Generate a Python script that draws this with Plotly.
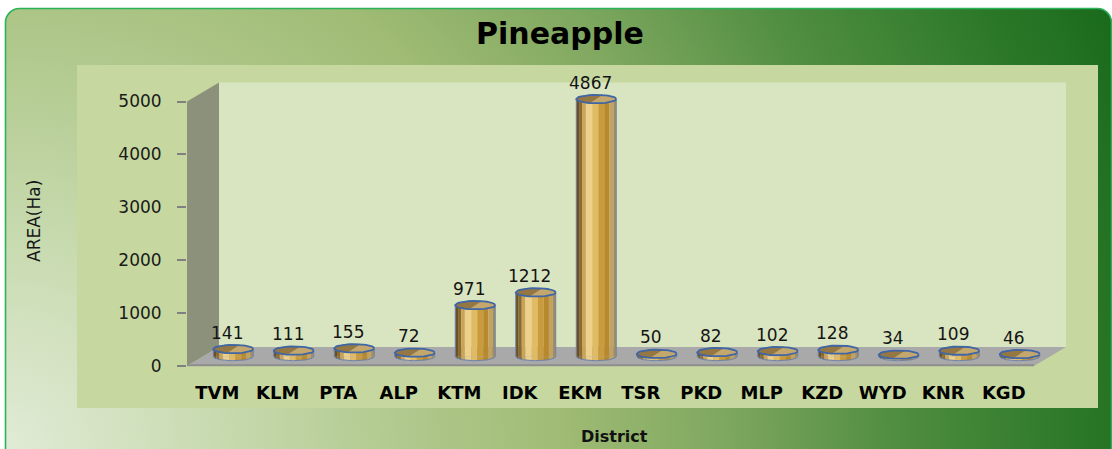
import base64
import math
import plotly.graph_objects as go

# ---------------- data ----------------
districts = ["TVM", "KLM", "PTA", "ALP", "KTM", "IDK", "EKM",
             "TSR", "PKD", "MLP", "KZD", "WYD", "KNR", "KGD"]
area_ha = [141, 111, 155, 72, 971, 1212, 4867, 50, 82, 102, 128, 34, 109, 46]
y_ticks = [0, 1000, 2000, 3000, 4000, 5000]
chart_title = "Pineapple"
x_title = "District"
y_title = "AREA(Ha)"

# ---------------- geometry (pixels) ----------------
W, H = 1112, 449
FONT = "DejaVu Sans"


def fx(px):
    return px / W


def fy(py):
    return 1 - py / H


FX0, FX1 = 187, 1034          # front category axis extent
FY0, FY5000 = 366, 101.5      # front value axis: y of 0 and 5000
DEPTH_X, DEPTH_Y = 32, 19     # 3D depth of floor / side wall
ppu = (FY0 - FY5000) / 5000.0  # pixels per unit
BX, BY = DEPTH_X / 2, DEPTH_Y / 2  # bars sit half-way into the depth
Y2MIN, Y2MAX = -300, 5200
base_px = FY0 - BY
y2_bottom_px = base_px - Y2MIN * ppu
y2_top_px = base_px - Y2MAX * ppu

BW = 0.66                      # cylinder width in category units
RX = BW / 2
RY = 4.2 / ppu                 # ellipse half-height in data units

# ---------------- background (gradient frame, chart area, walls) ----------------
svg = f"""<svg xmlns='http://www.w3.org/2000/svg' width='{W}' height='{H}' viewBox='0 0 {W} {H}'>
<defs>
<radialGradient id='rg' gradientUnits='userSpaceOnUse' cx='6' cy='449' r='1190'>
<stop offset='0' stop-color='#e1ebd6'/>
<stop offset='0.17' stop-color='#c9dbb1'/>
<stop offset='0.34' stop-color='#b0c88c'/>
<stop offset='0.47' stop-color='#9fbb74'/>
<stop offset='0.60' stop-color='#80a860'/>
<stop offset='0.74' stop-color='#528f42'/>
<stop offset='0.90' stop-color='#2c7829'/>
<stop offset='1' stop-color='#1a6a1c'/>
</radialGradient>
</defs>
<rect x='5.5' y='8.5' width='1106' height='470' rx='14' ry='14' fill='url(#rg)' stroke='#2bb35a' stroke-width='1.6'/>
<rect x='77' y='65' width='1021' height='343' fill='#c6d89f'/>
<rect x='{FX0 + DEPTH_X}' y='{FY5000 - DEPTH_Y}' width='{FX1 - FX0}' height='{FY0 - FY5000}' fill='#d9e5c0'/>
<polygon points='{FX0},{FY5000} {FX0 + DEPTH_X},{FY5000 - DEPTH_Y} {FX0 + DEPTH_X},{FY0 - DEPTH_Y} {FX0},{FY0}' fill='#8b917b'/>
<polygon points='{FX0},{FY0} {FX0 + DEPTH_X},{FY0 - DEPTH_Y} {FX1 + DEPTH_X},{FY0 - DEPTH_Y} {FX1},{FY0}' fill='#a9a9a9'/>
<line x1='{FX0}' y1='{FY0 - 0.8}' x2='{FX1}' y2='{FY0 - 0.8}' stroke='#8e8e8e' stroke-width='2'/>
</svg>"""
svg_uri = "data:image/svg+xml;base64," + base64.b64encode(svg.encode()).decode()

fig = go.Figure()

# ---------------- cylinders ----------------
idx = list(range(len(districts)))
stripes = [
    (0.00, 0.07, "#6a5022"),
    (0.07, 0.15, "#8a6a2e"),
    (0.15, 0.24, "#c9a458"),
    (0.24, 0.40, "#ecd08c"),
    (0.40, 0.55, "#e1bb64"),
    (0.55, 0.70, "#c99b3c"),
    (0.70, 0.83, "#b8892c"),
    (0.83, 0.93, "#c2a262"),
    (0.93, 1.00, "#a48c5c"),
]

for f0, f1, col in stripes:
    fig.add_trace(go.Bar(
        x=idx, y=area_ha, xaxis="x2", yaxis="y2",
        width=(f1 - f0) * BW, offset=-RX + f0 * BW,
        marker=dict(color=col, line=dict(width=0)),
        hoverinfo="skip", showlegend=False))

# bottom curve of each stripe
N = 10
for f0, f1, col in stripes:
    xs, ys = [], []
    for c in idx:
        xa = c - RX + f0 * BW
        xb = c - RX + f1 * BW
        xs.append(xa)
        ys.append(0)
        for k in range(N + 1):
            xx = xa + (xb - xa) * k / N
            u = (xx - c) / RX
            ys.append(-RY * max(0.0, 1 - u * u) ** 0.5)
            xs.append(xx)
        xs.append(xb)
        ys.append(0)
        xs.append(None)
        ys.append(None)
    fig.add_trace(go.Scatter(
        x=xs, y=ys, xaxis="x2", yaxis="y2", mode="lines",
        fill="toself", fillcolor=col, line=dict(width=0, color=col),
        hoverinfo="skip", showlegend=False))

# outline of cylinder sides + bottom
M = 30
ox, oy = [], []
for c, v in zip(idx, area_ha):
    ox += [c - RX, c - RX]
    oy += [v, 0]
    for k in range(M + 1):
        u = -1 + 2 * k / M
        ox.append(c + u * RX)
        oy.append(-RY * max(0.0, 1 - u * u) ** 0.5)
    ox += [c + RX, None]
    oy += [v, None]
fig.add_trace(go.Scatter(
    x=ox, y=oy, xaxis="x2", yaxis="y2", mode="lines",
    line=dict(color="#6a83ad", width=1),
    hoverinfo="skip", showlegend=False))

# top ellipses: light base, darker left half split by a tilted diameter
ex, ey = [], []
hx, hy = [], []
for c, v in zip(idx, area_ha):
    for k in range(41):
        t = 2 * math.pi * k / 40
        ex.append(c + RX * math.cos(t))
        ey.append(v + RY * math.sin(t))
    ex.append(None)
    ey.append(None)
    a0 = math.radians(72)
    for k in range(21):
        t = a0 + math.pi * k / 20
        hx.append(c + RX * math.cos(t))
        hy.append(v + RY * math.sin(t))
    hx.append(None)
    hy.append(None)
fig.add_trace(go.Scatter(
    x=ex, y=ey, xaxis="x2", yaxis="y2", mode="lines",
    fill="toself", fillcolor="#c4a76c", line=dict(width=0, color="#c4a76c"),
    hoverinfo="skip", showlegend=False))
fig.add_trace(go.Scatter(
    x=hx, y=hy, xaxis="x2", yaxis="y2", mode="lines",
    fill="toself", fillcolor="#957744", line=dict(width=0.8, color="#6e5428"),
    hoverinfo="skip", showlegend=False))
fig.add_trace(go.Scatter(
    x=ex, y=ey, xaxis="x2", yaxis="y2", mode="lines",
    line=dict(color="#3f66a6", width=1.8),
    hoverinfo="skip", showlegend=False))

# invisible trace to establish the front category axis
fig.add_trace(go.Scatter(x=districts, y=[0] * len(districts), mode="markers",
                         marker=dict(opacity=0), hoverinfo="skip",
                         showlegend=False, xaxis="x", yaxis="y"))

# value labels
annotations = []
for c, v in zip(idx, area_ha):
    annotations.append(dict(
        x=c, y=v, xref="x2", yref="y2", text=str(v), showarrow=False,
        xanchor="center", yanchor="middle", yshift=16.5, xshift=-6,
        font=dict(family=FONT, size=17, color="#141414")))

annotations += [
    dict(x=fx(560), y=fy(34), xref="paper", yref="paper", text=f"<b>{chart_title}</b>",
         showarrow=False, xanchor="center", yanchor="middle",
         font=dict(family=FONT, size=30, color="#000000")),
    dict(x=fx(614), y=fy(436), xref="paper", yref="paper", text=f"<b>{x_title}</b>",
         showarrow=False, xanchor="center", yanchor="middle",
         font=dict(family=FONT, size=16, color="#111111")),
    dict(x=fx(34), y=fy(221), xref="paper", yref="paper", text=y_title,
         showarrow=False, xanchor="center", yanchor="middle", textangle=-90,
         font=dict(family=FONT, size=17, color="#161616")),
]

fig.update_layout(
    width=W, height=H,
    margin=dict(l=0, r=0, t=0, b=0, pad=0, autoexpand=False),
    paper_bgcolor="#ffffff",
    plot_bgcolor="rgba(0,0,0,0)",
    barmode="overlay",
    showlegend=False,
    images=[dict(source=svg_uri, xref="paper", yref="paper", x=0, y=1,
                 sizex=1, sizey=1, xanchor="left", yanchor="top",
                 sizing="stretch", layer="below")],
    xaxis=dict(domain=[fx(FX0), fx(FX1)], type="category",
               categoryorder="array", categoryarray=districts,
               range=[-0.5, len(districts) - 0.5], anchor="y",
               automargin=False,
               showgrid=False, zeroline=False, showline=False, ticks="",
               ticklabelstandoff=14,
               tickfont=dict(family=FONT, size=18, color="#000000", weight="bold")),
    yaxis=dict(domain=[fy(FY0), fy(FY5000)], range=[0, 5000], anchor="x",
               automargin=False,
               tickvals=y_ticks, showgrid=False, zeroline=False, showline=False,
               ticks="outside", ticklen=9, tickwidth=1.5, tickcolor="#808080",
               ticklabelstandoff=12,
               tickfont=dict(family=FONT, size=17, color="#1a1a1a")),
    xaxis2=dict(domain=[fx(FX0 + BX), fx(FX1 + BX)],
                range=[-0.5, len(districts) - 0.5], anchor="y2",
                automargin=False,
                visible=False, showgrid=False, zeroline=False),
    yaxis2=dict(domain=[fy(y2_bottom_px), fy(y2_top_px)], range=[Y2MIN, Y2MAX],
                anchor="x2", automargin=False,
                visible=False, showgrid=False, zeroline=False),
    annotations=annotations,
)

fig.write_html("out.html", config={"displayModeBar": False},
               post_script="document.body.style.margin='0';")
